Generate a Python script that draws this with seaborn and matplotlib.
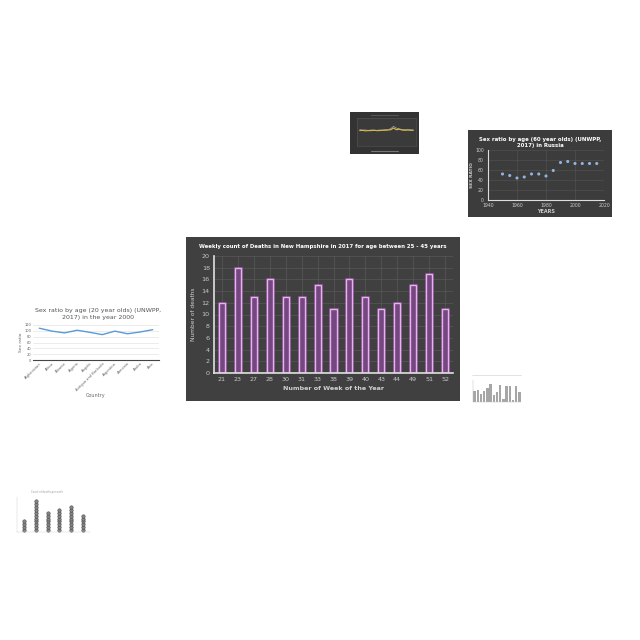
import matplotlib
matplotlib.use('Agg')
import matplotlib.pyplot as plt
import matplotlib.patheffects as pe
import seaborn as sns
import pandas as pd

# main chart data
weeks = ['21', '23', '27', '28', '30', '31', '33', '38', '39', '40', '43', '44', '49', '51', '52']
deaths = [12, 18, 13, 16, 13, 13, 15, 11, 16, 13, 11, 12, 15, 17, 11]

# Russia, 60 year olds
years_ru = [1950, 1955, 1960, 1965, 1970, 1975, 1980, 1985, 1990, 1995, 2000, 2005, 2010, 2015]
ratio_ru = [52, 49, 44, 46, 52, 52, 48, 59, 75, 77, 73, 73, 73, 73]

# 20 year olds, year 2000
countries = ['Afghanistan', 'Africa', 'Albania', 'Algeria', 'Angola',
             'Antigua and Barbuda', 'Argentina', 'Armenia', 'Aruba', 'Asia']
ratio_20 = [109, 99, 93, 102, 95, 87, 99, 90, 96, 104]

# small dark line thumbnail
thumb_x = list(range(20))
thumb_yellow = [55, 56, 54, 55, 55, 56, 55, 55, 56, 56, 57, 58, 64, 58, 60, 57, 56, 57, 56, 56]
thumb_grey = [58, 57, 57, 56, 57, 57, 56, 57, 57, 58, 58, 62, 70, 64, 61, 59, 58, 58, 58, 57]

# small grey bar thumbnail
thumb_bars = [50, 56, 35, 50, 65, 82, 30, 46, 76, 15, 73, 73, 11, 73, 46]

# dot column thumbnail
dot_groups = ['A', 'B', 'C', 'D', 'E', 'F']
dot_counts = [4, 11, 7, 8, 9, 6]


def box(x0, y0, x1, y1):
    return [x0 / 640, 1 - y1 / 640, (x1 - x0) / 640, (y1 - y0) / 640]


def clean(a):
    a.set_xticks([]); a.set_yticks([])
    for s in a.spines.values():
        s.set_visible(False)


sns.set_style('white')
plt.rcParams['font.family'] = ['DejaVu Sans']
fig = plt.figure(figsize=(6.4, 6.4), dpi=100)
fig.patch.set_facecolor('white')

# ---- main bar chart ----
bg = fig.add_axes(box(186, 237, 460, 401))
bg.set_facecolor('#404040')
clean(bg)
bg.text(0.5, 0.945, 'Weekly count of Deaths in New Hampshire in 2017 for age between 25 - 45 years',
        transform=bg.transAxes, ha='center', va='center', color='white', fontsize=3.9, fontweight='bold')

ax = fig.add_axes(box(214, 256, 453, 373))
ax.set_facecolor('#404040')
df = pd.DataFrame({'week': weeks, 'deaths': deaths})
sns.barplot(data=df, x='week', y='deaths', ax=ax, width=0.38, color='#7a3d8a',
            edgecolor='#eab0f2', linewidth=1.0)
for p in ax.patches:
    p.set_path_effects([pe.withStroke(linewidth=2.2, foreground='#b060c0', alpha=0.5)])
ax.set_ylim(0, 20)
ax.set_yticks(range(0, 21, 2))
ax.grid(axis='both', color='#585858', linewidth=0.5)
ax.set_axisbelow(True)
ax.tick_params(colors='#c8c8c8', labelsize=4.6, length=0, pad=3)
for s in ['top', 'right']:
    ax.spines[s].set_visible(False)
for s in ['left', 'bottom']:
    ax.spines[s].set_color('#e0e0e0')
    ax.spines[s].set_linewidth(1.2)
ax.set_xlabel('Number of Week of the Year', color='#d0d0d0', fontsize=4.6, fontweight='bold', labelpad=3)
ax.set_ylabel('Number of deaths', color='#d0d0d0', fontsize=4.2, labelpad=4)

# ---- Russia scatter thumbnail ----
bg2 = fig.add_axes(box(468, 130, 612, 217))
bg2.set_facecolor('#3c3c3c')
clean(bg2)
bg2.text(0.5, 0.86, 'Sex ratio by age (60 year olds) (UNWPP,\n2017) in Russia', transform=bg2.transAxes,
         ha='center', va='center', color='white', fontsize=3.9, fontweight='bold', linespacing=1.3)
ax2 = fig.add_axes(box(488, 150, 604, 200))
ax2.set_facecolor('#3c3c3c')
sns.scatterplot(x=years_ru, y=ratio_ru, ax=ax2, color='#8fb4e0', s=5, edgecolor='none')
ax2.set_xlim(1940, 2020)
ax2.set_ylim(0, 100)
ax2.set_xticks(range(1940, 2021, 20))
ax2.set_yticks(range(0, 101, 20))
ax2.grid(color='#555555', linewidth=0.4)
ax2.tick_params(colors='#cccccc', labelsize=3.3, length=0)
ax2.tick_params(axis='x', pad=2)
ax2.tick_params(axis='y', pad=3)
for s in ['top', 'right']:
    ax2.spines[s].set_visible(False)
ax2.spines['left'].set_color('#dddddd')
ax2.spines['bottom'].set_color('#dddddd')
ax2.set_xlabel('YEARS', color='#cccccc', fontsize=3.5, fontweight='bold', labelpad=1)
ax2.set_ylabel('SEX RATIO', color='#cccccc', fontsize=3.2, fontweight='bold', labelpad=1)

# ---- 20 year olds line thumbnail ----
fig.text(98 / 640, 1 - 314 / 640, 'Sex ratio by age (20 year olds) (UNWPP,\n2017) in the year 2000',
         ha='center', va='center', color='#555555', fontsize=4.5, linespacing=1.3)
ax3 = fig.add_axes(box(33, 325, 159, 360))
sns.lineplot(x=list(range(len(countries))), y=ratio_20, ax=ax3, color='#5b9bd5', linewidth=1.0)
ax3.set_xlim(-0.5, len(countries) - 0.5)
ax3.set_ylim(0, 120)
ax3.set_yticks(range(0, 121, 20))
ax3.set_xticks(range(len(countries)))
ax3.set_xticklabels(countries, rotation=45, ha='right', rotation_mode='anchor')
ax3.grid(axis='y', color='#e4e4e4', linewidth=0.5)
ax3.tick_params(colors='#666666', labelsize=2.6, length=0, pad=1)
for s in ['top', 'right', 'left']:
    ax3.spines[s].set_visible(False)
ax3.spines['bottom'].set_color('#444444')
ax3.set_xlabel('Country', color='#666666', fontsize=3.5, labelpad=1)
ax3.set_ylabel('Sex ratio', color='#666666', fontsize=3.2, labelpad=1)

# ---- small dark line thumbnail ----
bg4 = fig.add_axes(box(350, 112, 419, 154))
bg4.set_facecolor('#333333')
clean(bg4)
ax4 = fig.add_axes(box(357, 118, 416, 146))
ax4.set_facecolor('#3a3a3a')
sns.lineplot(x=thumb_x, y=thumb_grey, ax=ax4, color='#b0b0b0', linewidth=0.5)
sns.lineplot(x=thumb_x, y=thumb_yellow, ax=ax4, color='#d6b84a', linewidth=0.8)
ax4.set_ylim(0, 100)
ax4.set_xticks([]); ax4.set_yticks([])
ax4.grid(False)
for s in ax4.spines.values():
    s.set_color('#555555')
    s.set_linewidth(0.4)
bg4.plot([0.3, 0.7], [0.07, 0.07], color='#777777', lw=0.8, transform=bg4.transAxes)
bg4.plot([0.3, 0.7], [0.93, 0.93], color='#555555', lw=0.8, transform=bg4.transAxes)

# ---- small grey bar thumbnail ----
ax5 = fig.add_axes(box(473, 380, 521, 402))
sns.barplot(x=list(range(len(thumb_bars))), y=thumb_bars, ax=ax5, color='#a6a6a6', width=0.7,
            linewidth=0)
ax5.set_ylim(0, 100)
ax5.set_xticks([]); ax5.set_yticks([])
ax5.set_xlabel(''); ax5.set_ylabel('')
for s in ['top', 'right']:
    ax5.spines[s].set_visible(False)
for s in ['left', 'bottom']:
    ax5.spines[s].set_color('#bbbbbb')
    ax5.spines[s].set_linewidth(0.3)
fig.lines.append(plt.Line2D([472 / 640, 521 / 640], [1 - 375 / 640] * 2, color='#cccccc', lw=0.4,
                            transform=fig.transFigure))

# ---- dot column thumbnail ----
dots = pd.DataFrame({'grp': [g for g, n in zip(dot_groups, dot_counts) for _ in range(n)],
                     'lvl': [i for n in dot_counts for i in range(n)]})
ax6 = fig.add_axes(box(17, 497, 90, 532))
sns.scatterplot(data=dots, x='grp', y='lvl', ax=ax6, color='#888888', s=6, edgecolor='#444444', linewidth=0.4)
ax6.set_ylim(-0.7, 11.5)
ax6.set_xlim(-0.6, len(dot_groups) - 0.4)
ax6.set_xticks([]); ax6.set_yticks([])
ax6.set_xlabel(''); ax6.set_ylabel('')
for s in ['top', 'right']:
    ax6.spines[s].set_visible(False)
for s in ['left', 'bottom']:
    ax6.spines[s].set_color('#cccccc')
    ax6.spines[s].set_linewidth(0.3)
fig.text(47 / 640, 1 - 492 / 640, 'Count of deaths per week', ha='center', va='center', color='#999999', fontsize=1.8)

fig.savefig('out.png', dpi=100, facecolor='white')
